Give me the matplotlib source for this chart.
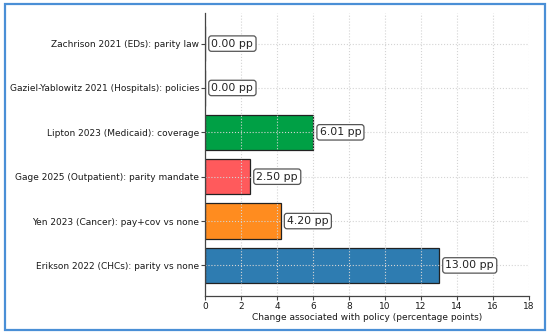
import matplotlib
matplotlib.use("Agg")
import matplotlib.pyplot as plt
from matplotlib.patches import Rectangle

labels = [
    "Erikson 2022 (CHCs): parity vs none",
    "Yen 2023 (Cancer): pay+cov vs none",
    "Gage 2025 (Outpatient): parity mandate",
    "Lipton 2023 (Medicaid): coverage",
    "Gaziel-Yablowitz 2021 (Hospitals): policies",
    "Zachrison 2021 (EDs): parity law",
]
values = [13.00, 4.20, 2.50, 6.01, 0.00, 0.00]
colors = ["#2e7cb1", "#ff8c1f", "#ff5a5c", "#00a045", "#888888", "#888888"]
xticks = [0, 2, 4, 6, 8, 10, 12, 14, 16, 18]
xlabel = "Change associated with policy (percentage points)"

fig = plt.figure(figsize=(5.5, 3.33), dpi=100)
ax = fig.add_axes([0.373, 0.111, 0.589, 0.85])

y = list(range(len(labels)))
ax.barh(y, values, height=0.8, color=colors, edgecolor="#222222", linewidth=0.9, zorder=2)
for yi, v in zip(y, values):
    ax.text(v + 0.35, yi, f"{v:.2f} pp", va="center", ha="left", fontsize=7.8, color="#222222",
            bbox=dict(boxstyle="round,pad=0.25", fc="white", ec="#555555", lw=0.9), zorder=5)

ax.set_yticks(y)
ax.set_yticklabels(labels, fontsize=6.5, color="#1a1a1a")
ax.set_xlim(0, 18)
ax.set_xticks(xticks)
ax.set_xticklabels([str(t) for t in xticks], fontsize=6.5, color="#1a1a1a")
ax.set_xlabel(xlabel, fontsize=6.5, color="#1a1a1a", labelpad=1)
ax.tick_params(length=3, width=0.8, colors="#444444", labelcolor="#1a1a1a", pad=1.5)
ax.grid(True, linestyle=":", color="#d4d4d4", linewidth=0.8, zorder=3)
ax.set_axisbelow(False)
for s in ["top", "right"]:
    ax.spines[s].set_visible(False)
for s in ["left", "bottom"]:
    ax.spines[s].set_color("#444444")
    ax.spines[s].set_linewidth(0.9)
    ax.spines[s].set_zorder(4)

fig.patches.append(Rectangle((5 / 550, 3 / 333), 540 / 550, 326 / 333, transform=fig.transFigure,
                             fill=False, ec="#4a8fd6", lw=1.6))

fig.savefig("out.png", dpi=100)
